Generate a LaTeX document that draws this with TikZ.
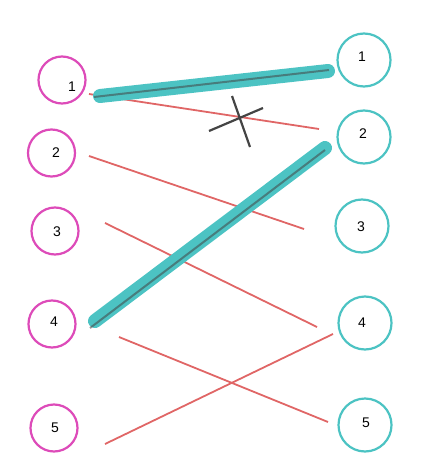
\documentclass[tikz,border=0pt]{standalone}
\usepackage{fontspec}
\setmainfont{Liberation Sans}
\definecolor{lmag}{HTML}{DD4BB9}
\definecolor{rteal}{HTML}{4CC3C3}
\definecolor{lred}{HTML}{E06666}
\definecolor{xgray}{HTML}{444444}
\begin{document}
\begin{tikzpicture}[x=1pt,y=-1pt,
  lc/.style={circle,draw=lmag,line width=2.2pt,minimum size=47pt,inner sep=0pt},
  rc/.style={circle,draw=rteal,line width=2.2pt,minimum size=53pt,inner sep=0pt},
  num/.style={inner sep=0pt,font=\fontsize{14}{14}\selectfont},
  redline/.style={draw=lred,line width=1.8pt},
  thick/.style={draw=rteal,line width=14pt,line cap=round},
  inner/.style={draw=xgray,line width=2pt,opacity=0.55},
  xmark/.style={draw=xgray,line width=2.2pt}]
\useasboundingbox (0,0) rectangle (427,473);
% left circles
\node[lc] (L1) at (62,80) {};
\node[lc] (L2) at (51.5,153) {};
\node[lc] (L3) at (55,231) {};
\node[lc] (L4) at (52,324) {};
\node[lc] (L5) at (54,428) {};
\node[num] (tL1) at (72,87) {1};
\node[num] (tL2) at (56,153) {2};
\node[num] (tL3) at (57,232) {3};
\node[num] (tL4) at (54,322) {4};
\node[num] (tL5) at (55,428) {5};
% right circles
\node[rc] (R1) at (364,60) {};
\node[rc] (R2) at (364,137) {};
\node[rc] (R3) at (362,226) {};
\node[rc] (R4) at (365,323) {};
\node[rc] (R5) at (365,425) {};
\node[num] (tR1) at (362,57) {1};
\node[num] (tR2) at (363,134) {2};
\node[num] (tR3) at (361,227) {3};
\node[num] (tR4) at (362,323) {4};
\node[num] (tR5) at (366,423) {5};
% red line endpoints
\coordinate (a1) at (89,94);   \coordinate (b1) at (319,129);
\coordinate (a2) at (89,156);  \coordinate (b2) at (304,229);
\coordinate (a3) at (105,223); \coordinate (b3) at (317,327);
\coordinate (a4) at (119,337); \coordinate (b4) at (328,422);
\coordinate (a5) at (105,444); \coordinate (b5) at (333,334);
\draw[redline] (a1) -- (b1);
\draw[redline] (a2) -- (b2);
\draw[redline] (a3) -- (b3);
\draw[redline] (a4) -- (b4);
\draw[redline] (a5) -- (b5);
% thick teal lines
\coordinate (t1s) at (100,96); \coordinate (t1e) at (328,71);
\coordinate (t2s) at (95,321); \coordinate (t2e) at (325,148);
\coordinate (g1s) at (94,97);  \coordinate (g1e) at (329,70);
\coordinate (g2s) at (90,328); \coordinate (g2e) at (325,150);
\draw[thick] (t1s) -- (t1e);
\draw[thick] (t2s) -- (t2e);
\draw[inner] (g1s) -- (g1e);
\draw[inner] (g2s) -- (g2e);
% x mark
\coordinate (x1) at (232,96);  \coordinate (x2) at (250,147);
\coordinate (x3) at (209,131); \coordinate (x4) at (263,108);
\draw[xmark] (x1) -- (x2);
\draw[xmark] (x3) -- (x4);
\end{tikzpicture}
\end{document}
